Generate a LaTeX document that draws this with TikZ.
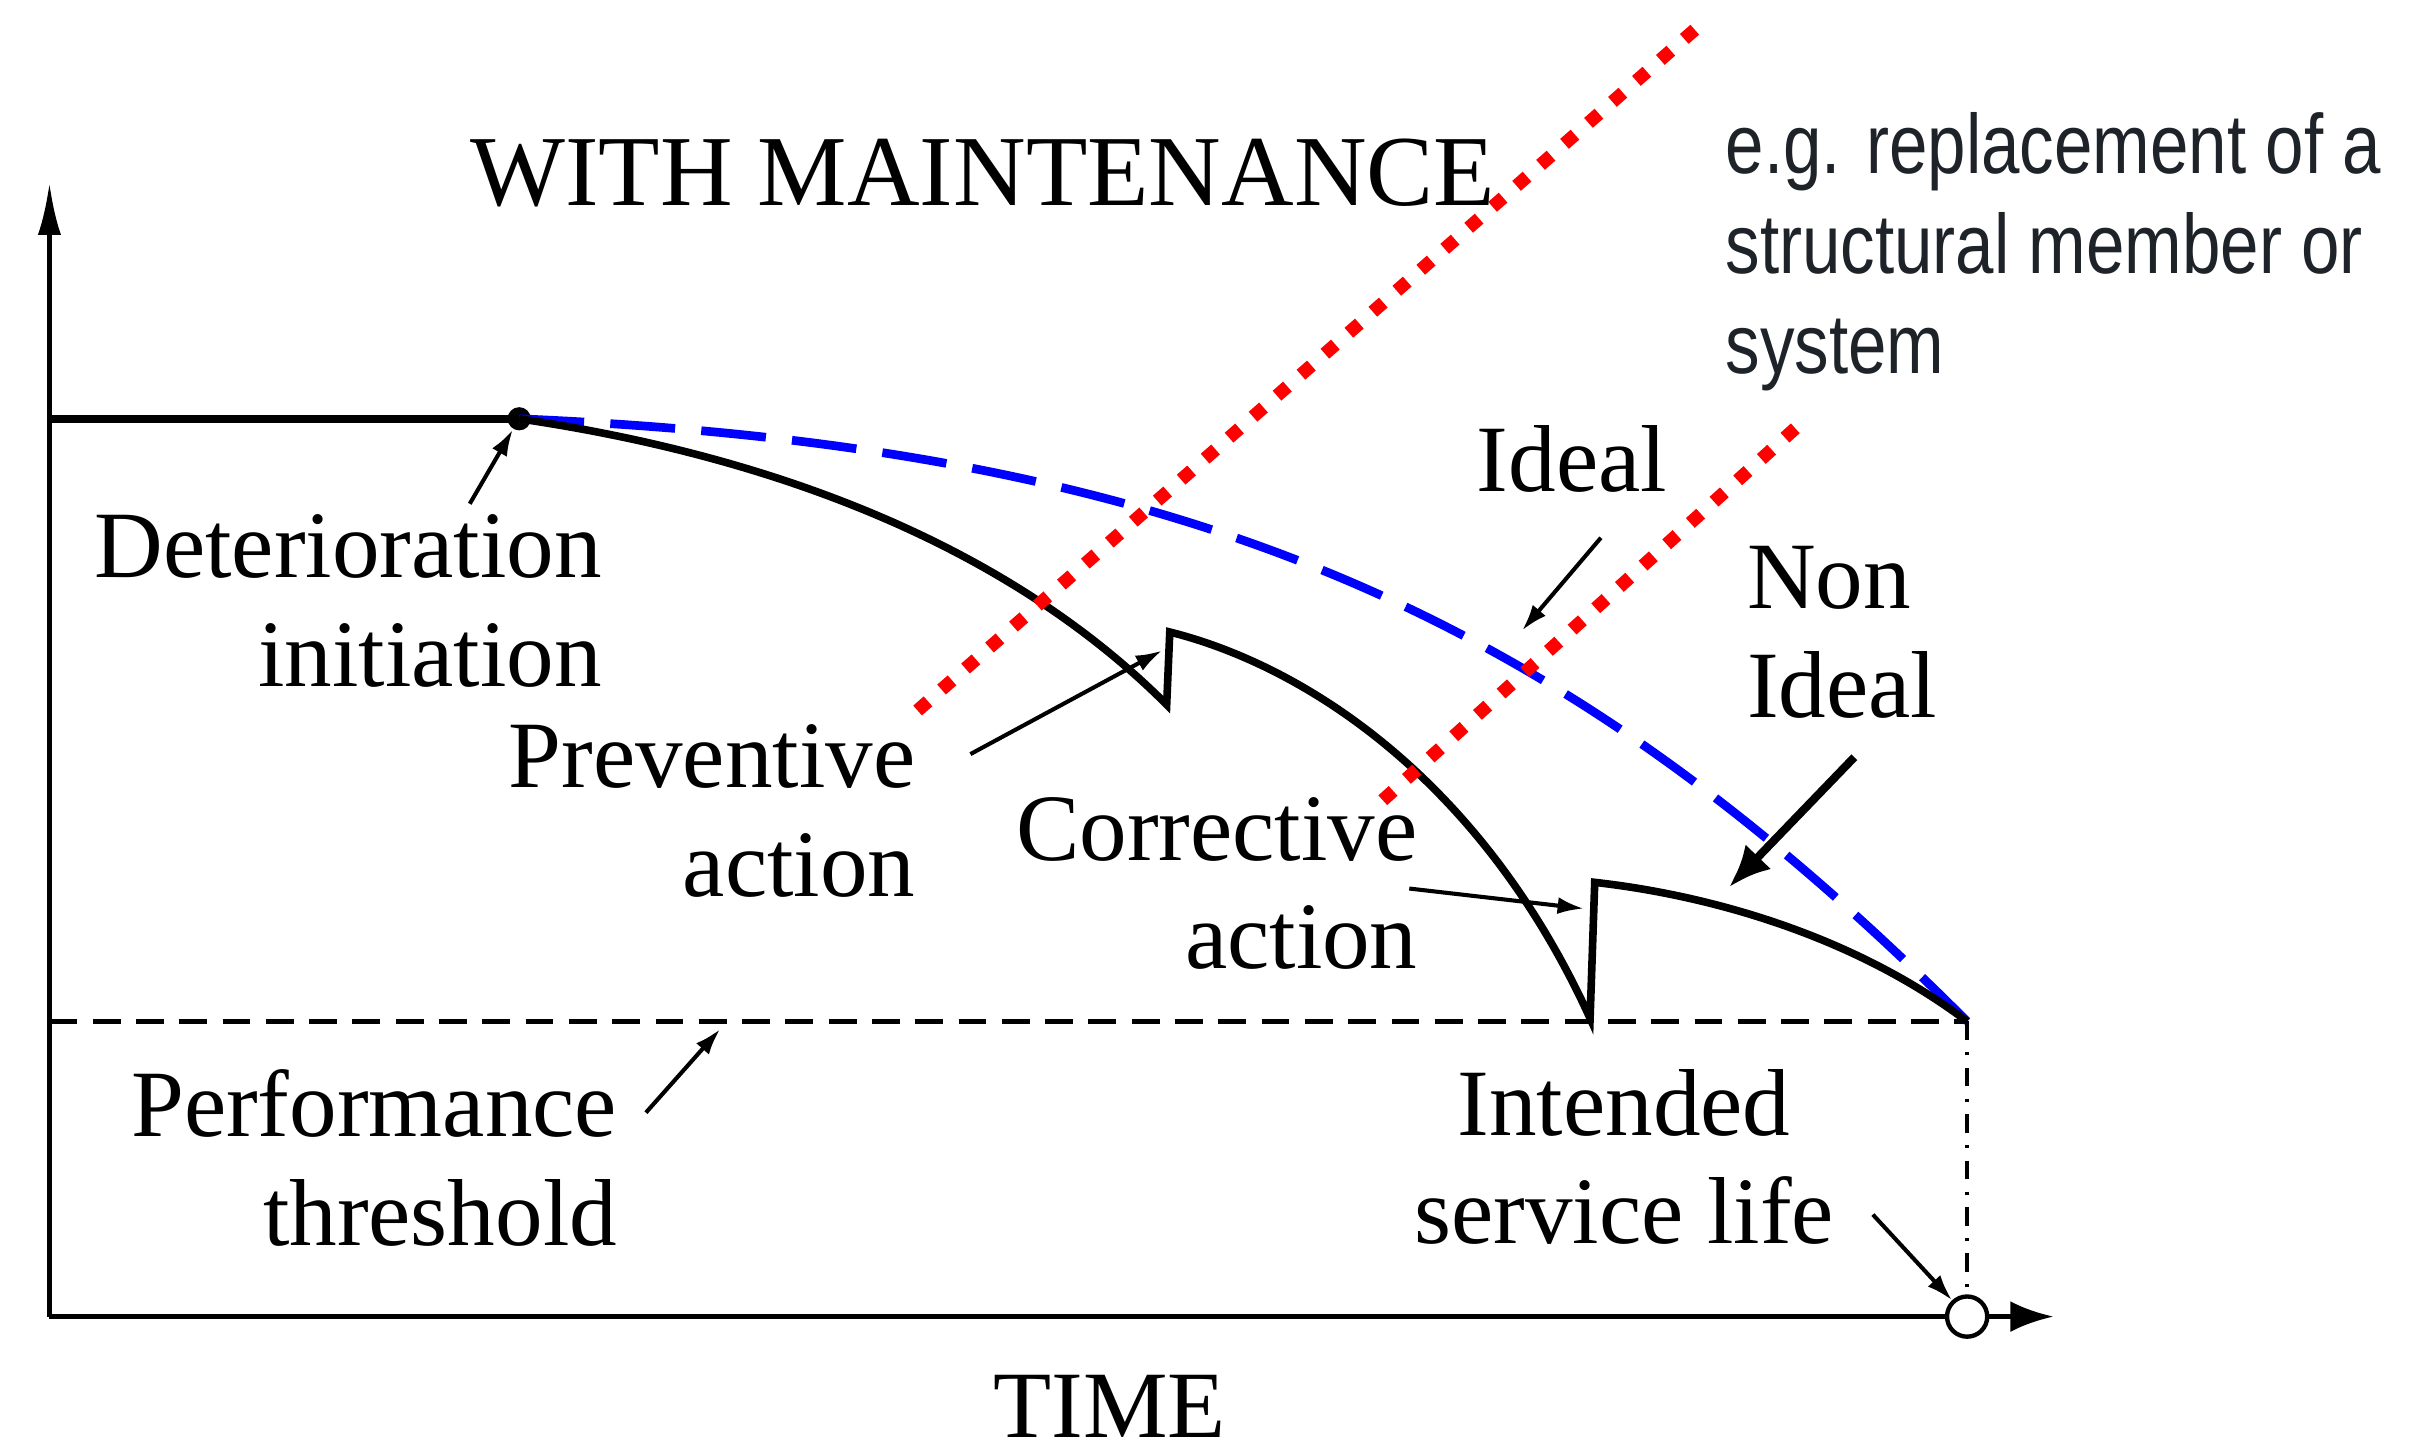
\documentclass[tikz,border=0pt]{standalone}
\usepackage{fontspec}
\setmainfont{Liberation Serif}
\newfontfamily\notefont[FakeStretch=0.82]{Liberation Sans}
\usetikzlibrary{arrows.meta, positioning}
\definecolor{iblue}{RGB}{0,0,255}
\definecolor{rred} {RGB}{255,0,0}
\definecolor{ngray}{RGB}{30,35,42}
\tikzset{
  % Serif labels of the chart
  Lbl/.style={font=\fontsize{17.5}{20}\selectfont,inner sep=0pt,align=#1},
  Lbl/.default=right,
  % Lines
  Axis/.style ={line width=0.95pt},
  Main/.style ={line width=1.4pt,line join=miter},
  IdealC/.style={draw=iblue,line width=1.6pt,dash pattern=on 0.42cm off 0.17cm},
  Thr/.style  ={line width=0.8pt,dash pattern=on 0.18cm off 0.1cm},
  LifeL/.style={line width=0.8pt,dash pattern=on 0.12cm off 0.08cm on 0.02cm off 0.08cm},
  Repl/.style ={draw=rred,line width=0.085cm,line cap=rect,
                dash pattern=on 0.005cm off 0.201cm},
  % Arrows
  Arr/.style  ={-{Latex[length=0.17cm,width=0.11cm]},line width=0.75pt},
  BArr/.style ={-{Latex[length=0.27cm,width=0.23cm]},line width=1.5pt},
}

\begin{document}
\begin{tikzpicture}[x=0.01cm,y=-0.01cm]
  \useasboundingbox (0,0) rectangle (1568,939);

  % axes
  \coordinate (O) at (32,852);
  \coordinate (ytop) at (32,118);
  \coordinate (xend) at (1329,852);
  \node[circle,draw,fill=white,line width=0.8pt,minimum size=0.26cm,
        inner sep=0pt] (life) at (1273,852) {};
  \draw[Axis,-{Latex[length=0.34cm,width=0.15cm]}] (O) -- (ytop);
  \draw[Axis] (O) -- (life.west);
  \draw[Axis,-{Latex[length=0.28cm,width=0.2cm]}] (life.east) -- (xend);

  % threshold and end of life
  \coordinate (thr) at (32,661);
  \coordinate (E) at (1273,661);
  \draw[Thr] (thr) -- (E);
  \draw[LifeL] (E) -- (life.north);

  % performance curves
  \coordinate (h0) at (32,271);
  \node[circle,fill,minimum size=0.15cm,inner sep=0pt] (D) at (336,271) {};
  \draw[Main,line width=1.55pt] (h0) -- (D.center);
  \draw[IdealC] (D.center) .. controls (782,290) and (1018,406) .. (E);
  \coordinate (P1) at (755,456);
  \coordinate (P2) at (757,409);
  \coordinate (C1) at (1029,659);
  \coordinate (C2) at (1032,571);
  \draw[Main] (D.center) .. controls (486,293) and (645,346) .. (P1)
        -- (P2) .. controls (845,431) and (959,505) .. (C1)
        -- (C2) .. controls (1112,580) and (1203,608) .. (E);

  % replacement lines
  \draw[Repl] (597,457) -- (1105,12);
  \draw[Repl] (898,515) -- (1172,268);

  % labels (base = last line)
  \node[Lbl,font=\fontsize{18.5}{22}\selectfont,anchor=base] (title)
        at (636,133) {WITH MAINTENANCE};
  \node[anchor=base west,inner sep=0pt,align=left,text=ngray,
        font=\notefont\fontsize{15.5}{18.4}\selectfont] (note) at (1116,242)
        {e.g. replacement of a\\structural member or\\system};
  \node[Lbl,anchor=base east] (det) at (390,444) {Deterioration\\initiation};
  \node[Lbl,anchor=base east] (prev) at (593,580) {Preventive\\action};
  \node[Lbl=left,anchor=base west] (ideal) at (955,318) {Ideal};
  \node[Lbl=left,anchor=base west] (nonid) at (1130,464) {Non\\Ideal};
  \node[Lbl,anchor=base east] (corr) at (918,627) {Corrective\\action};
  \node[Lbl,anchor=base east] (perf) at (400,806) {Performance\\threshold};
  \node[Lbl=center,anchor=base] (isl) at (1051,805) {Intended\\service life};
  \node[Lbl,anchor=base] (time) at (718,930) {TIME};

  % pointers
  \coordinate (detA) at (304,326);
  \coordinate (prevA) at (628,488);
  \coordinate (prevT) at (752,421);
  \coordinate (idealA) at (1036,348);
  \coordinate (idealT) at (985,408);
  \coordinate (nonA) at (1200,490);
  \coordinate (nonT) at (1119,574);
  \coordinate (corrA) at (912,575);
  \coordinate (corrT) at (1025,588);
  \coordinate (perfA) at (418,720);
  \coordinate (perfT) at (466,666);
  \coordinate (islA) at (1212,786);
  \draw[Arr] (detA) -- (D);
  \draw[Arr] (prevA) -- (prevT);
  \draw[Arr] (idealA) -- (idealT);
  \draw[BArr] (nonA) -- (nonT);
  \draw[Arr] (corrA) -- (corrT);
  \draw[Arr] (perfA) -- (perfT);
  \draw[Arr] (islA) -- (life);
\end{tikzpicture}
\end{document}
